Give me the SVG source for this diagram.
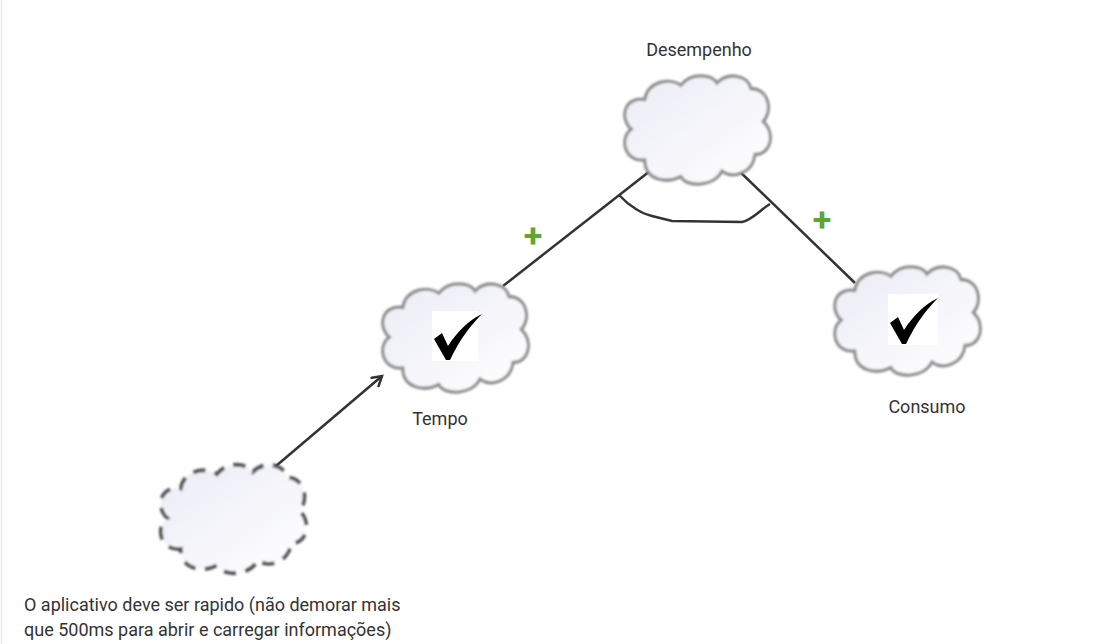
<svg xmlns="http://www.w3.org/2000/svg" xmlns:xlink="http://www.w3.org/1999/xlink" width="1108" height="644" viewBox="0 0 1108 644">
<defs>
<linearGradient id="cg" x1="0" y1="0" x2="1" y2="1">
<stop offset="0" stop-color="#ebecf6"/>
<stop offset="1" stop-color="#ffffff"/>
</linearGradient>
<filter id="soft" x="-10%" y="-10%" width="120%" height="120%">
<feGaussianBlur stdDeviation="0.9"/>
</filter>
<path id="cloud" d="M 25,80 C 5,82 0,60 12,52 C 0,42 5,22 25,25 C 28,8 50,5 60,12 C 70,0 90,2 95,10 C 105,0 125,2 128,15 C 145,15 150,35 140,45 C 152,55 148,75 132,75 C 130,92 110,98 100,90 C 92,105 65,105 60,95 C 45,102 25,98 25,80 Z"/>
<path id="check" d="M 2,27 L 10,21 L 16,34 C 25,20 37,8 50,2 C 39,13 28,27 18,48 L 14,48 Z"/>
<marker id="open" markerWidth="14" markerHeight="14" refX="11" refY="7" orient="auto" markerUnits="userSpaceOnUse">
<path d="M 1,1 L 11,7 L 1,13" fill="none" stroke="#333" stroke-width="2.5"/>
</marker>
</defs>
<style>
.cl{fill:url(#cg);stroke:#909090;stroke-width:3;filter:url(#soft)}
.dash{stroke-dasharray:12 9;stroke:#555;stroke-width:3.6}
.lbl{font-family:Roboto,"Liberation Sans",sans-serif;font-size:18px;fill:#333}
.conn{stroke:#333;stroke-width:2.5;fill:none}
.plus{font-family:Roboto,"Liberation Sans",sans-serif;font-size:34px;font-weight:bold;fill:#5fa532}
</style>
<rect width="1108" height="644" fill="#ffffff"/>
<line x1="1.5" y1="0" x2="1.5" y2="644" stroke="#ececec" stroke-width="1.5"/>

<g id="connectors">
<line class="conn" x1="650" y1="171" x2="503" y2="286"/>
<line class="conn" x1="735" y1="167" x2="855" y2="283"/>
<path class="conn" d="M 619,195 C 630,207 643,214 652,216 L 672,221 L 742,222 C 752,220 760,210 770,204"/>
<line class="conn" x1="276" y1="466" x2="382" y2="376" marker-end="url(#open)"/>
<text class="plus" x="533" y="247" text-anchor="middle">+</text>
<text class="plus" x="822" y="231" text-anchor="middle">+</text>
</g>

<g id="desempenho">
<use xlink:href="#cloud" class="cl" transform="translate(619,72) scale(1.03,1.1)"/>
<text class="lbl" x="699" y="56" text-anchor="middle">Desempenho</text>
</g>

<g id="tempo">
<use xlink:href="#cloud" class="cl" transform="translate(377,280) scale(1.03,1.1)"/>
<rect x="432" y="311" width="46" height="50" fill="#ffffff"/>
<use xlink:href="#check" transform="translate(432,312)" fill="#000"/>
<text class="lbl" x="440" y="425" text-anchor="middle">Tempo</text>
</g>

<g id="consumo">
<use xlink:href="#cloud" class="cl" transform="translate(829,263) scale(1.03,1.1)"/>
<rect x="888" y="294" width="50" height="51" fill="#ffffff"/>
<use xlink:href="#check" transform="translate(888,296)" fill="#000"/>
<text class="lbl" x="927" y="413" text-anchor="middle">Consumo</text>
</g>

<g id="requisito">
<use xlink:href="#cloud" class="cl dash" transform="translate(155,461) scale(1.03,1.1)"/>
<text class="lbl" x="24" y="611">O aplicativo deve ser rapido (não demorar mais</text>
<text class="lbl" x="24" y="636">que 500ms para abrir e carregar informações)</text>
</g>
</svg>
